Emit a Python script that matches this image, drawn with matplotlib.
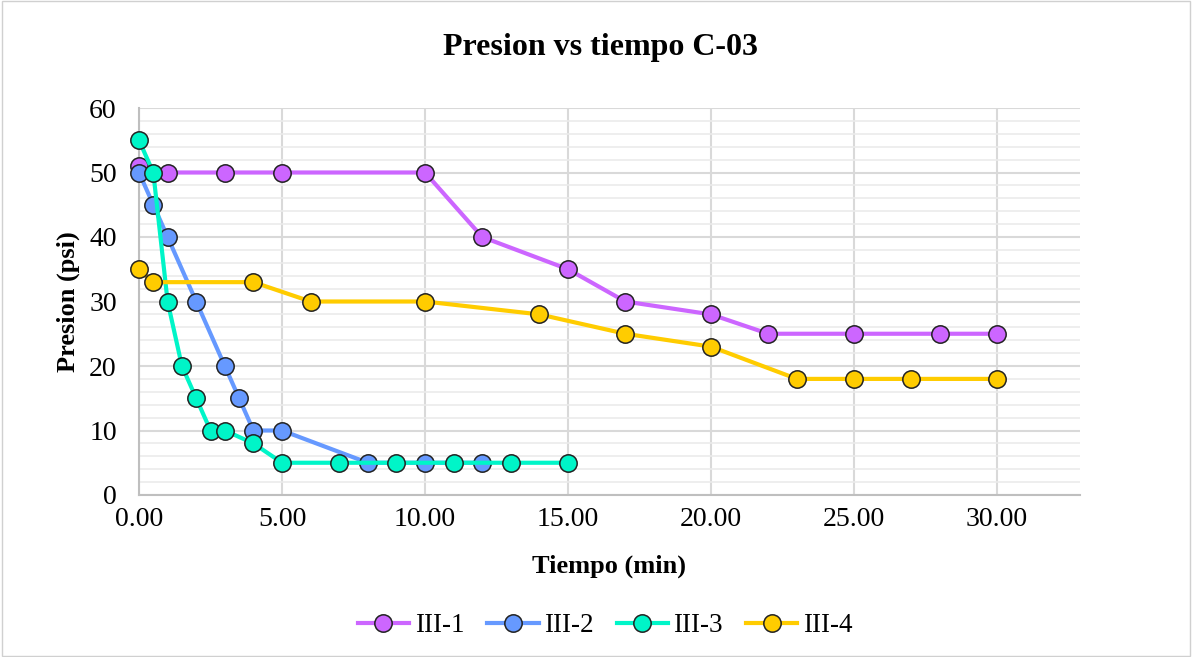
import matplotlib
matplotlib.use('Agg')
import matplotlib.pyplot as plt
from matplotlib.ticker import MultipleLocator, FormatStrFormatter

plt.rcParams['font.family'] = ['Liberation Serif', 'DejaVu Serif']

# III-1
x1 = [0, 1, 3, 5, 10, 12, 15, 17, 20, 22, 25, 28, 30]
y1 = [51, 50, 50, 50, 50, 40, 35, 30, 28, 25, 25, 25, 25]
# III-2
x2 = [0, 0.5, 1, 2, 3, 3.5, 4, 5, 8, 10, 12]
y2 = [50, 45, 40, 30, 20, 15, 10, 10, 5, 5, 5]
# III-3
x3 = [0, 0.5, 1, 1.5, 2, 2.5, 3, 4, 5, 7, 9, 11, 13, 15]
y3 = [55, 50, 30, 20, 15, 10, 10, 8, 5, 5, 5, 5, 5, 5]
# III-4
x4 = [0, 0.5, 4, 6, 10, 14, 17, 20, 23, 25, 27, 30]
y4 = [35, 33, 33, 30, 30, 28, 25, 23, 18, 18, 18, 18]

series = [
    ('III-1', x1, y1, '#CC66FF'),
    ('III-2', x2, y2, '#6699FF'),
    ('III-3', x3, y3, '#00F5C8'),
    ('III-4', x4, y4, '#FFCC00'),
]

fig = plt.figure(figsize=(11.92, 6.57), dpi=100)
ax = fig.add_axes([139/1192, 1 - 495/657, (1080 - 139)/1192, (495 - 108)/657])

for name, xs, ys, c in series:
    ax.plot(xs, ys, color=c, lw=3, marker='o', ms=12.5, mfc=c, mec='#222222',
            mew=1.1, label=name, zorder=3, clip_on=False)

ax.set_xlim(0, 32.9)
ax.set_ylim(0, 60)
ax.xaxis.set_major_locator(MultipleLocator(5))
ax.xaxis.set_major_formatter(FormatStrFormatter('%.2f'))
ax.yaxis.set_major_locator(MultipleLocator(10))
ax.yaxis.set_minor_locator(MultipleLocator(2))
ax.grid(which='major', color='#D9D9D9', lw=1.5, zorder=0)
ax.grid(which='minor', axis='y', color='#EBEBEB', lw=1.2, zorder=0)
ax.set_axisbelow(True)
for s in ['top', 'right']:
    ax.spines[s].set_visible(False)
for s in ['left', 'bottom']:
    ax.spines[s].set_color('#BFBFBF')
    ax.spines[s].set_linewidth(1.5)
ax.tick_params(which='both', length=0, labelsize=20)
ax.tick_params(axis='y', pad=16)
ax.tick_params(axis='x', pad=9)

fig.text(600/1192, 1 - 48/657, 'Presion vs tiempo C-03', fontsize=23,
         fontweight='bold', ha='center', va='center')
fig.text(609/1192, 1 - 566/657, 'Tiempo (min)', fontsize=19,
         fontweight='bold', ha='center', va='center')
fig.text(68/1192, 1 - 302/657, 'Presion (psi)', fontsize=19,
         fontweight='bold', ha='center', va='center', rotation=90)

fig.legend(loc='center', bbox_to_anchor=(605/1192, 1 - 626/657), ncol=4,
           frameon=False, fontsize=19.5, handlelength=1.9, columnspacing=0.85,
           handletextpad=0.2)

fig.patches.append(plt.Rectangle((0.002, 0.002), 0.996, 0.996, transform=fig.transFigure,
                                 fill=False, ec='#D0D0D0', lw=1))

fig.savefig('out.png', dpi=100)
